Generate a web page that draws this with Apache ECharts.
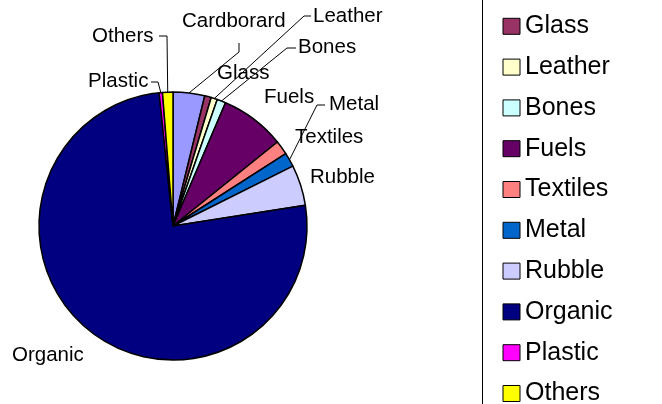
<!DOCTYPE html>
<html><head><meta charset="utf-8">
<script src="https://cdn.jsdelivr.net/npm/echarts@6/dist/echarts.min.js"></script>
<style>html,body{margin:0;padding:0;background:#fff}#c{width:662px;height:404px}</style>
</head><body><div id="c"></div>
<script>
const categories = ['Cardborard','Glass','Leather','Bones','Fuels','Textiles','Metal','Rubble','Organic','Plastic','Others'];
const values = [3.8, 0.8, 0.75, 1.05, 7.8, 1.7, 1.7, 4.9, 75.7, 0.4, 1.25];
const colors = ['#9999FF','#993366','#FFFFCC','#CCFFFF','#660066','#FF8080','#0066CC','#CCCCFF','#000080','#FF00FF','#FFFF00'];

// label placement (layout style, not data)
const labelPlacement = {
  Cardborard: {x:182, y:21, leader:[[239,52],[239,43]]},
  Glass: {x:217, y:73},
  Leather: {x:313, y:16, leader:[[304,16],[311,16]]},
  Bones: {x:298, y:47, leader:[[287,48],[296,48]]},
  Fuels: {x:264, y:97},
  Metal: {x:329, y:104, leader:[[317,105],[325,105]]},
  Textiles: {x:295, y:137.5},
  Rubble: {x:310, y:177},
  Organic: {x:12, y:355},
  Plastic: {x:88, y:81, leader:[[158,82],[151,82]]},
  Others: {x:92, y:36, leader:[[167,36],[159,36]]}
};

const chart = echarts.init(document.getElementById('c'), null, {renderer:'canvas'});
const font = '"Liberation Sans", Arial, sans-serif';
chart.setOption({
  animation: false,
  backgroundColor: '#fff',
  legend: {
    orient: 'vertical',
    left: 482.5, top: -71,
    width: 300, height: 520,
    padding: [40, 150, 40, 20],
    borderColor: '#000', borderWidth: 1,
    icon: 'rect',
    itemWidth: 17, itemHeight: 16, itemGap: 7.8,
    selectedMode: false,
    itemStyle: {borderColor: '#000', borderWidth: 1},
    textStyle: {fontFamily: font, fontSize: 25, color: '#000', lineHeight: 25, padding: [0,0,8,0]},
    data: categories
  },
  series: [{
    type: 'pie',
    center: [173, 226],
    radius: 134,
    startAngle: 90,
    clockwise: true,
    avoidLabelOverlap: false,
    emphasis: {disabled: true},
    itemStyle: {borderColor: '#000', borderWidth: 1.5},
    label: {show: true, position: 'outside', fontFamily: font, fontSize: 20.5, color: '#000'},
    labelLine: {show: true, smooth: false, lineStyle: {color: '#000', width: 1}},
    labelLayout: function (params) {
      const p = labelPlacement[categories[params.dataIndex]];
      const out = {x: p.x, y: p.y, align: 'left', verticalAlign: 'middle'};
      if (p.leader && params.labelLinePoints) {
        out.labelLinePoints = [params.labelLinePoints[0]].concat(p.leader);
      }
      return out;
    },
    data: categories.map((n, i) => ({
      name: n, value: values[i],
      itemStyle: {color: colors[i]},
      labelLine: {show: !!labelPlacement[n].leader}
    }))
  }]
});
</script></body></html>
